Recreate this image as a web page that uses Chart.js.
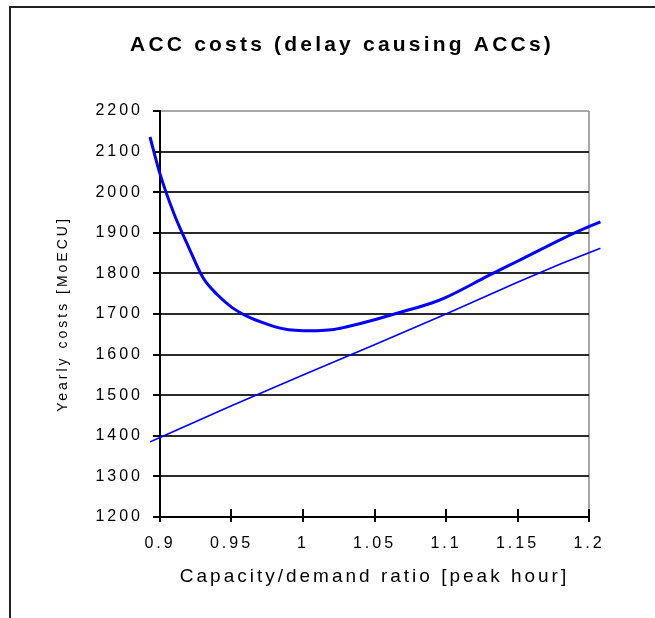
<!DOCTYPE html>
<html>
<head>
<meta charset="utf-8">
<script src="https://cdn.jsdelivr.net/npm/chart.js@4"></script>
<style>
    html, body { margin: 0; padding: 0; background: #fff; overflow: hidden; }
    #frame { position: absolute; left: 9px; top: 6px; width: 700px; height: 700px; border: 2px solid #222; }
    #wrap { position: absolute; left: 0; top: 0; width: 655px; height: 618px; }
</style>
</head>
<body>
<div id="frame"></div>
<div id="wrap"><canvas id="chart"></canvas></div>
<script>
// Texts
const chartTitle = 'ACC costs (delay causing ACCs)';
const xAxisTitle = 'Capacity/demand ratio [peak hour]';
const yAxisTitle = 'Yearly costs [MoECU]';

// Axis ticks
const xTicks = [0.9, 0.95, 1, 1.05, 1.1, 1.15, 1.2];
const xTickLabels = ['0.9', '0.95', '1', '1.05', '1.1', '1.15', '1.2'];
const yTicks = [1200, 1300, 1400, 1500, 1600, 1700, 1800, 1900, 2000, 2100, 2200];
const yTickLabels = ['1200', '1300', '1400', '1500', '1600', '1700', '1800', '1900', '2000', '2100', '2200'];

// Total cost curve (thick line)
const costRatio = [0.893, 0.9, 0.91, 0.92, 0.93, 0.94, 0.95, 0.96, 0.97, 0.98, 0.99, 1.0, 1.01, 1.02, 1.03, 1.05, 1.07, 1.09, 1.1, 1.13, 1.15, 1.19, 1.208];
const costValues = [2136, 2045, 1945, 1865, 1790, 1748, 1717, 1696, 1681, 1669, 1661, 1659, 1659, 1661, 1668, 1686, 1706, 1727, 1741, 1795, 1830, 1900, 1927];

// Straight line (thin line)
const lineRatio = [0.893, 0.9, 0.95, 1.0, 1.05, 1.1, 1.15, 1.18, 1.208];
const lineValues = [1385, 1396, 1474, 1550, 1624, 1700, 1778, 1823, 1862];

Chart.defaults.font.family = '"Liberation Sans", Arial, sans-serif';
Chart.defaults.color = '#000';

const spacingPlugin = {
    id: 'spacing',
    beforeLayout(chart) { chart.ctx.letterSpacing = '3px'; },
    beforeDraw(chart) { chart.ctx.letterSpacing = '3px'; },
    beforeDatasetsDraw(chart) {
        // upper half of the x axis tick marks
        const { ctx, chartArea, scales } = chart;
        ctx.save();
        ctx.strokeStyle = '#000';
        ctx.lineWidth = 2;
        xTicks.forEach(v => {
            const px = Math.round(scales.x.getPixelForValue(v));
            ctx.beginPath();
            ctx.moveTo(px, chartArea.bottom - 8);
            ctx.lineTo(px, chartArea.bottom);
            ctx.stroke();
        });
        ctx.restore();
    },
    afterDraw(chart) {
        const ctx = chart.ctx;
        ctx.save();
        ctx.letterSpacing = '3.2px';
        ctx.font = 'bold 21px "Liberation Sans", Arial, sans-serif';
        ctx.fillStyle = '#000';
        ctx.textAlign = 'center';
        ctx.textBaseline = 'middle';
        ctx.fillText(chartTitle, 342, 45);
        ctx.restore();
    }
};

new Chart(document.getElementById('chart'), {
    type: 'line',
    data: {
        datasets: [{
            label: 'ACC costs',
            data: costRatio.map((x, i) => ({ x: x, y: costValues[i] })),
            borderColor: '#0000ff',
            borderWidth: 3,
            pointRadius: 0,
            cubicInterpolationMode: 'monotone',
            clip: false
        }, {
            label: 'Linear',
            data: lineRatio.map((x, i) => ({ x: x, y: lineValues[i] })),
            borderColor: '#0000ff',
            borderWidth: 1.6,
            pointRadius: 0,
            clip: false
        }]
    },
    options: {
        responsive: true,
        maintainAspectRatio: false,
        animation: false,
        layout: { padding: { top: 111, right: 66, bottom: 21, left: 0 } },
        plugins: {
            legend: { display: false },
            title: { display: false },
            tooltip: { enabled: false }
        },
        scales: {
            x: {
                type: 'linear',
                min: 0.9,
                max: 1.2,
                afterBuildTicks: s => { s.ticks = xTicks.map(v => ({ value: v })); },
                afterFit: s => { s.height = 80; },
                ticks: {
                    callback: (v, i) => xTickLabels[i],
                    padding: 12,
                    maxRotation: 0,
                    autoSkip: false,
                    font: { size: 16 }
                },
                grid: {
                    color: c => (c.tick && c.tick.value === 1.2 ? '#a8a8a8' : 'rgba(0,0,0,0)'),
                    tickColor: '#000',
                    tickLength: 5,
                    lineWidth: 2
                },
                border: { color: '#000', width: 2 },
                title: {
                    display: true,
                    text: xAxisTitle,
                    font: { size: 19 },
                    padding: { top: 0, bottom: 9 }
                }
            },
            y: {
                min: 1200,
                max: 2200,
                afterBuildTicks: s => { s.ticks = yTicks.map(v => ({ value: v })); },
                afterFit: s => { s.width = 160; },
                ticks: {
                    callback: (v, i) => yTickLabels[i],
                    padding: 10,
                    font: { size: 16 }
                },
                grid: {
                    color: c => (c.tick && c.tick.value === 2200 ? '#a8a8a8' : '#2a2a2a'),
                    tickColor: '#000',
                    tickLength: 7,
                    lineWidth: 2
                },
                border: { color: '#000', width: 2 },
                title: {
                    display: true,
                    text: yAxisTitle,
                    font: { size: 14 },
                    padding: { top: 55, bottom: 0 }
                }
            }
        }
    },
    plugins: [spacingPlugin]
});
</script>
</body>
</html>
